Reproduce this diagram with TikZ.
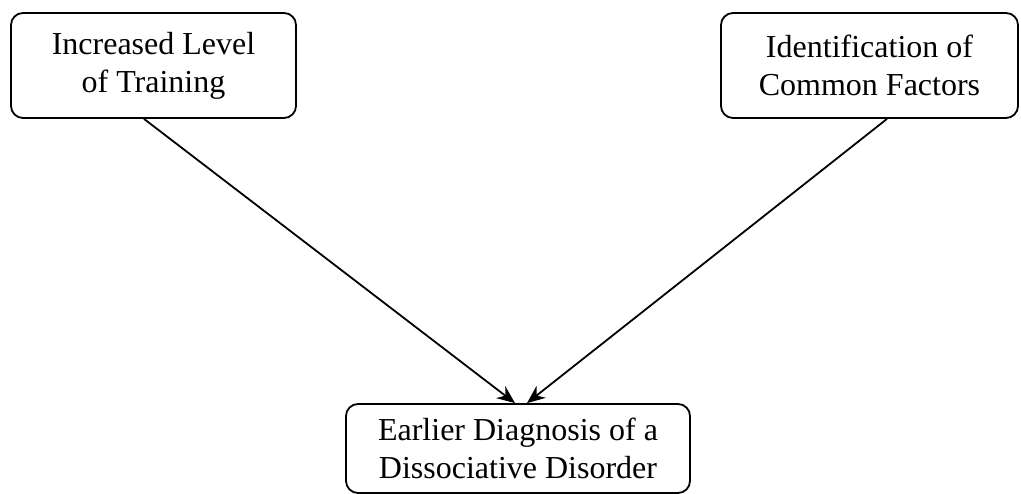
\documentclass[tikz,border=0pt]{standalone}
\usepackage{fontspec}
\setmainfont{Liberation Serif}
\usetikzlibrary{arrows.meta}

\begin{document}
\begin{tikzpicture}[
  x=1pt, y=1pt,
  box/.style={rectangle, draw=black, fill=white, align=center, rounded corners=12pt, line width=1.8pt, font=\fontsize{32}{38}\selectfont},
  arrow/.style={line width=1.8pt, -{Stealth[length=18pt,width=15pt]}}
]
  \useasboundingbox (0,0) rectangle (1021,494);
  \node[box, minimum width=285pt, minimum height=105pt] (training) at (153.5,428.5) {Increased Level\\of Training};
  \node[box, minimum width=297pt, minimum height=105pt] (factors) at (869.5,428.5) {Identification of\\Common Factors};
  \node[box, minimum width=344pt, minimum height=89pt] (diagnosis) at (518,45.5) {Earlier Diagnosis of a\\Dissociative Disorder};

  \draw[arrow] ([xshift=-9.5pt]training.south) -- ([xshift=-3pt]diagnosis.north);
  \draw[arrow] ([xshift=17.5pt]factors.south) -- ([xshift=9pt]diagnosis.north);
\end{tikzpicture}
\end{document}
